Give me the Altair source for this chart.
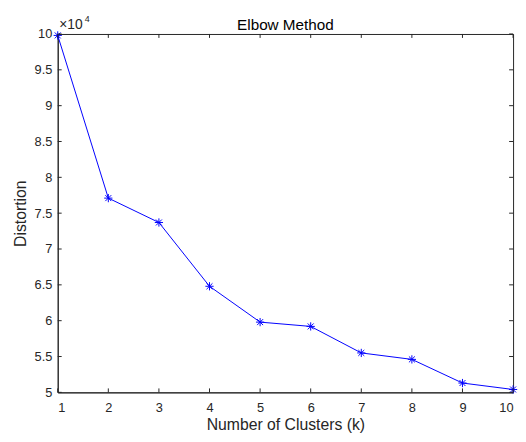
import altair as alt
import pandas as pd

# ---- data ----
k_values = [1, 2, 3, 4, 5, 6, 7, 8, 9, 10]
distortion = [99800, 77100, 73700, 64800, 59800, 59200, 55500, 54600, 51300, 50400]
x_ticks = [1, 2, 3, 4, 5, 6, 7, 8, 9, 10]
y_ticks = [5, 5.5, 6, 6.5, 7, 7.5, 8, 8.5, 9, 9.5, 10]

W, H = 462.5, 364
FONT = "Liberation Sans"
INK = "#262626"
TL = 4  # inward tick length

df = pd.DataFrame({"k": k_values, "distortion": distortion})
xt = pd.DataFrame({"k": x_ticks})
yt = pd.DataFrame({"y": y_ticks})

xscale = alt.Scale(domain=[1, 10], nice=False, zero=False)
yscale = alt.Scale(domain=[5, 10], nice=False, zero=False)

common = dict(grid=False, ticks=False, domainColor=INK, labelFont=FONT,
              labelFontSize=13, labelColor=INK, titleFont=FONT,
              titleFontSize=16, titleColor=INK, titleFontWeight="normal")
xaxis = alt.Axis(values=x_ticks, title="Number of Clusters (k)",
                 titleY=38, titleBaseline="alphabetic",
                 labelPadding=9, format="d", **common)
yaxis = alt.Axis(values=y_ticks, title="Distortion",
                 titleX=-33, titleBaseline="alphabetic",
                 labelPadding=6, format="~g", **common)

X = alt.X("k:Q", scale=xscale, axis=xaxis)
Y = alt.Y("y:Q", scale=yscale, axis=yaxis)

base = alt.Chart(df).transform_calculate(y="datum.distortion / 10000")

line = base.mark_line(color="#0000FF", strokeWidth=1).encode(x=X, y=Y)

asterisk = "M-1,0L1,0M0,-1L0,1M-0.72,-0.72L0.72,0.72M-0.72,0.72L0.72,-0.72"
points = base.mark_point(shape=asterisk, filled=False, color="#0000FF",
                         strokeWidth=1, size=70, opacity=1).encode(x=X, y=Y)

xb = alt.Chart(xt).mark_rule(color=INK, strokeWidth=1).encode(
    x=X, y=alt.value(H), y2=alt.value(H - TL))
xtop = alt.Chart(xt).mark_rule(color=INK, strokeWidth=1).encode(
    x=X, y=alt.value(0), y2=alt.value(TL))
yl = alt.Chart(yt).mark_rule(color=INK, strokeWidth=1).encode(
    y=Y, x=alt.value(0), x2=alt.value(TL))
yr = alt.Chart(yt).mark_rule(color=INK, strokeWidth=1).encode(
    y=Y, x=alt.value(W), x2=alt.value(W - TL))

title = alt.Chart(pd.DataFrame({"s": ["Elbow Method"]})).mark_text(
    align="center", baseline="alphabetic", font=FONT, fontSize=15.5, color="black"
).encode(text="s:N", x=alt.value(W / 2), y=alt.value(-4))
exp_base = alt.Chart(pd.DataFrame({"s": ["×10"]})).mark_text(
    align="left", baseline="alphabetic", font=FONT, fontSize=14, color=INK
).encode(text="s:N", x=alt.value(1.5), y=alt.value(-5))
exp_sup = alt.Chart(pd.DataFrame({"s": ["4"]})).mark_text(
    align="left", baseline="alphabetic", font=FONT, fontSize=9, color=INK
).encode(text="s:N", x=alt.value(27.5), y=alt.value(-12))

chart = alt.layer(line, points, xb, xtop, yl, yr, title, exp_base, exp_sup).properties(
    width=W, height=H,
    background="white",
    autosize=alt.AutoSizeParams(type="none"),
    padding={"left": 50.5, "top": 23, "right": 5, "bottom": 45},
).configure_view(stroke=INK, strokeWidth=1)

chart.save("out.html", embed_options={"renderer": "svg", "actions": False})
